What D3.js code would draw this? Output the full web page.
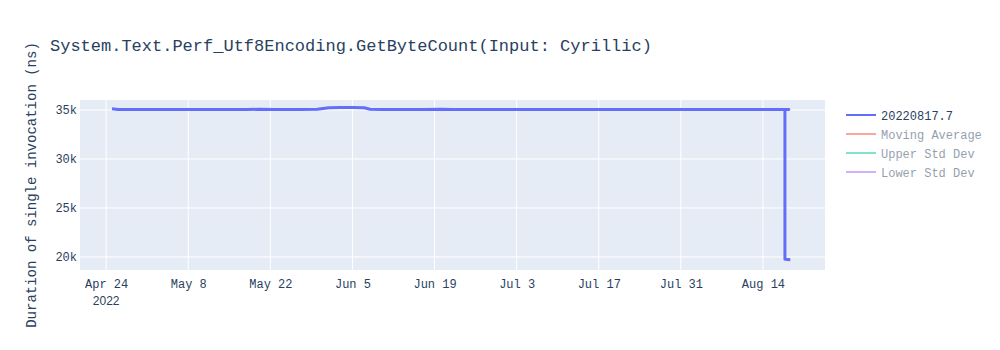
<!DOCTYPE html>
<html>
<head>
<meta charset="utf-8">
<script src="https://cdn.jsdelivr.net/npm/d3@7"></script>
<style>
  body { margin: 0; background: #fff; }
  svg { font-family: "Liberation Mono", "Courier New", monospace; }
</style>
</head>
<body>
<div id="chart"></div>
<script>
// benchmark run dates and measured values (ns)
const dates = [
  "2022-04-25", "2022-04-26", "2022-04-28", "2022-04-30", "2022-05-02", "2022-05-04",
  "2022-05-06", "2022-05-09", "2022-05-11", "2022-05-13", "2022-05-16", "2022-05-18",
  "2022-05-20", "2022-05-23", "2022-05-25", "2022-05-27", "2022-05-30", "2022-06-01",
  "2022-06-03", "2022-06-05", "2022-06-07", "2022-06-08", "2022-06-10", "2022-06-13",
  "2022-06-15", "2022-06-17", "2022-06-20", "2022-06-22", "2022-06-24", "2022-06-27",
  "2022-06-29", "2022-07-01", "2022-07-05", "2022-07-08", "2022-07-12", "2022-07-15",
  "2022-07-19", "2022-07-22", "2022-07-26", "2022-07-29", "2022-08-02", "2022-08-05",
  "2022-08-09", "2022-08-12", "2022-08-15", "2022-08-18T10:00", "2022-08-17T18:00",
  "2022-08-17T18:00", "2022-08-18T16:00"
];
const values = [
  35120, 35060, 35040, 35050, 35040, 35050,
  35040, 35060, 35040, 35050, 35040, 35040,
  35070, 35050, 35040, 35060, 35080, 35230,
  35250, 35250, 35230, 35080, 35050, 35040,
  35060, 35050, 35070, 35050, 35040, 35060,
  35050, 35040, 35050, 35050, 35050, 35050,
  35050, 35050, 35050, 35050, 35050, 35050,
  35050, 35050, 35050, 35060, 35050,
  19760, 19720
];
const yTicks = [20000, 25000, 30000, 35000];
const xTickDates = ["2022-04-24", "2022-05-08", "2022-05-22", "2022-06-05", "2022-06-19",
  "2022-07-03", "2022-07-17", "2022-07-31", "2022-08-14"];
const legendNames = ["20220817.7", "Moving Average", "Upper Std Dev", "Lower Std Dev"];
const legendColors = ["#636efa", "#EF553B", "#00cc96", "#ab63fa"];

const w = 1000, h = 350;
const pLeft = 80, pRight = 825, pTop = 100, pBottom = 270;

const parse = d3.isoParse;
const data = dates.map((d, i) => ({ date: parse(d), v: values[i] }));

const svg = d3.select("#chart").append("svg")
  .attr("width", w)
  .attr("height", h);

const xScale = d3.scaleTime()
  .domain([new Date(2022, 3, 19, 13), new Date(2022, 7, 24, 14)])
  .range([pLeft, pRight]);
const yScale = d3.scaleLinear()
  .domain([18670, 36020])
  .range([pBottom, pTop]);

svg.append("rect")
  .attr("x", pLeft).attr("y", pTop)
  .attr("width", pRight - pLeft).attr("height", pBottom - pTop)
  .attr("fill", "#e5ecf6");

const xTicks = xTickDates.map(d => d3.timeParse("%Y-%m-%d")(d));

// grid
svg.append("g").selectAll("line").data(xTicks).enter().append("line")
  .attr("x1", d => xScale(d)).attr("x2", d => xScale(d))
  .attr("y1", pTop).attr("y2", pBottom)
  .attr("stroke", "#fff").attr("stroke-width", 1);
svg.append("g").selectAll("line").data(yTicks).enter().append("line")
  .attr("x1", pLeft).attr("x2", pRight)
  .attr("y1", d => yScale(d)).attr("y2", d => yScale(d))
  .attr("stroke", "#fff").attr("stroke-width", 1);

// axes
const fmtDate = d3.timeFormat("%b %-d");
const xAxis = d3.axisBottom(xScale).tickValues(xTicks).tickFormat(fmtDate).tickSize(0).tickPadding(9);
const gx = svg.append("g").attr("transform", "translate(0," + pBottom + ")").call(xAxis);
gx.select(".domain").remove();
gx.selectAll("text").attr("fill", "#2a3f5f").style("font-size", "12px")
  .style("font-family", "Liberation Mono, monospace");
gx.append("text")
  .attr("x", xScale(xTicks[0])).attr("y", 35)
  .attr("text-anchor", "middle")
  .attr("fill", "#2a3f5f").style("font-size", "12px")
  .text("2022");

const yAxis = d3.axisLeft(yScale).tickValues(yTicks).tickFormat(d => d / 1000 + "k").tickSize(0).tickPadding(3);
const gy = svg.append("g").attr("transform", "translate(" + pLeft + ",0)").call(yAxis);
gy.select(".domain").remove();
gy.selectAll("text").attr("fill", "#2a3f5f").style("font-size", "12px")
  .style("font-family", "Liberation Mono, monospace");

// line
const line = d3.line().x(d => xScale(d.date)).y(d => yScale(d.v));
svg.append("path")
  .datum(data)
  .attr("d", line)
  .attr("fill", "none")
  .attr("stroke", legendColors[0])
  .attr("stroke-width", 3)
  .attr("stroke-linejoin", "round");

// title
svg.append("text")
  .attr("x", 50).attr("y", 51)
  .attr("fill", "#2a3f5f").style("font-size", "17px")
  .text("System.Text.Perf_Utf8Encoding.GetByteCount(Input: Cyrillic)");

svg.append("text")
  .attr("transform", "translate(36," + ((pTop + pBottom) / 2) + ") rotate(-90)")
  .attr("text-anchor", "middle")
  .attr("fill", "#2a3f5f").style("font-size", "14px")
  .text("Duration of single invocation (ns)");

// legend
const lg = svg.append("g").attr("transform", "translate(846,115)");
legendNames.forEach((n, i) => {
  const g = lg.append("g").attr("transform", "translate(0," + i * 19 + ")")
    .attr("opacity", i === 0 ? 1 : 0.5);
  g.append("line").attr("x1", 0).attr("x2", 30).attr("y1", 0).attr("y2", 0)
    .attr("stroke", legendColors[i]).attr("stroke-width", 2);
  g.append("text").attr("x", 35).attr("y", 4.5)
    .attr("fill", "#2a3f5f").style("font-size", "12px")
    .text(n);
});
</script>
</body>
</html>
